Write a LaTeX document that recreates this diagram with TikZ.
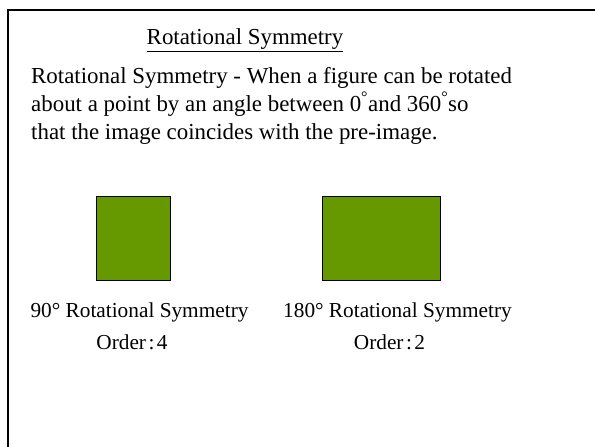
\documentclass[tikz,border=0pt]{standalone}
\usepackage{fontspec}
\setmainfont{Liberation Serif}
\definecolor{shapegreen}{HTML}{669900}
\tikzset{
  txt/.style={inner sep=0pt, font=\fontsize{22.9}{27}\selectfont},
  lbl/.style={inner sep=0pt, font=\fontsize{21.3}{25}\selectfont},
  shapebox/.style={draw=black, line width=0.8pt, fill=shapegreen}
}
\begin{document}
\begin{tikzpicture}[x=1pt,y=-1pt]
\useasboundingbox (0,0) rectangle (595,447);
\draw[line width=2pt] (8,447) -- (8,10) -- (600,10);
\node[txt, anchor=base] (title) at (245,45) {\underline{Rotational Symmetry}};
\node[txt, anchor=base west] (l1) at (31,83.5) {Rotational Symmetry - When a figure can be rotated};
\node[txt, anchor=base west] (l2) at (31,111.5) {about a point by an angle between 0\textsuperscript{°}and 360\textsuperscript{°}so};
\node[txt, anchor=base west] (l3) at (31,139.5) {that the image coincides with the pre-image.};
\node[shapebox, minimum width=74pt, minimum height=84pt, inner sep=0pt] (sq) at (133,238) {};
\node[shapebox, minimum width=118pt, minimum height=84pt, inner sep=0pt] (rect) at (381,238) {};
\node[lbl, anchor=base] (lab1) at (139.5,317) {90° Rotational Symmetry};
\node[lbl, anchor=base] (ord1) at (132,349.5) {Order\hspace{2.5pt}:\hspace{2.5pt}4};
\node[lbl, anchor=base] (lab2) at (397.5,317) {180° Rotational Symmetry};
\node[lbl, anchor=base] (ord2) at (389.5,349.5) {Order\hspace{2.5pt}:\hspace{2.5pt}2};
\end{tikzpicture}
\end{document}
